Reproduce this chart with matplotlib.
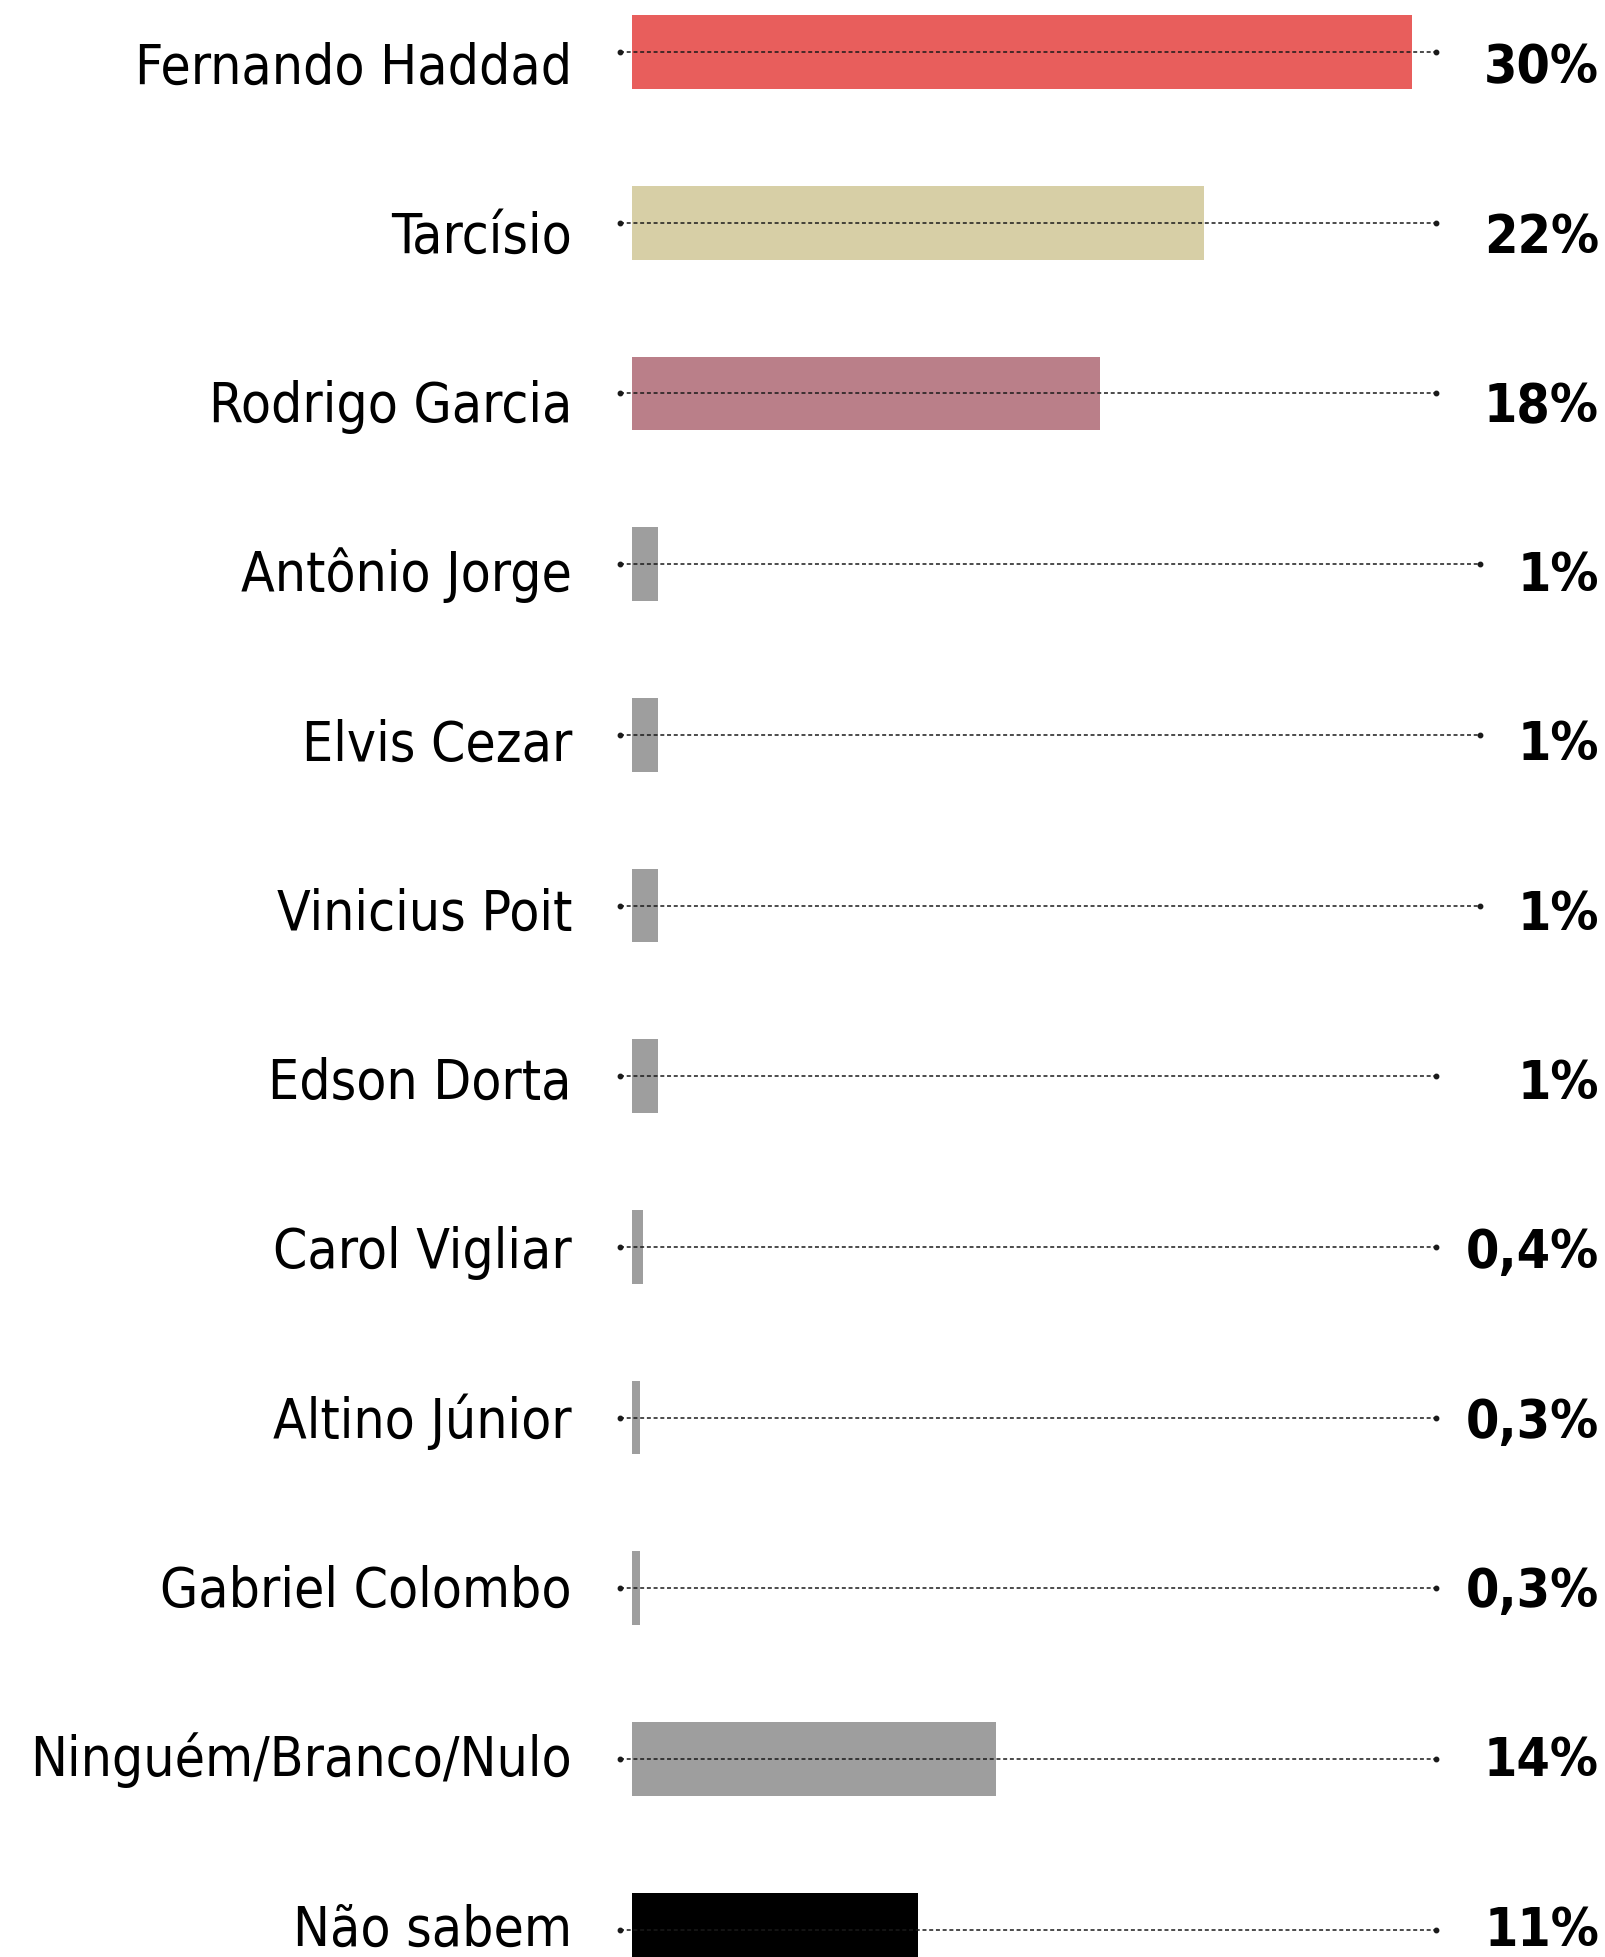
import matplotlib
matplotlib.use("Agg")
import matplotlib.pyplot as plt
from matplotlib import font_manager as fm

# ---- data ----
candidates = ["Fernando Haddad", "Tarcísio", "Rodrigo Garcia", "Antônio Jorge",
              "Elvis Cezar", "Vinicius Poit", "Edson Dorta", "Carol Vigliar",
              "Altino Júnior", "Gabriel Colombo", "Ninguém/Branco/Nulo", "Não sabem"]
values = [30, 22, 18, 1, 1, 1, 1, 0.4, 0.3, 0.3, 14, 11]
value_labels = ["30%", "22%", "18%", "1%", "1%", "1%", "1%", "0,4%", "0,3%",
                "0,3%", "14%", "11%"]
colors = ["#E85E5C", "#D7CFA6", "#BA7F89", "#9E9E9E", "#9E9E9E", "#9E9E9E",
          "#9E9E9E", "#9E9E9E", "#9E9E9E", "#9E9E9E", "#9E9E9E", "#000000"]

# ---- layout (pixels of the 1606x1957 canvas) ----
W, H = 1606, 1957
BAR_LEFT = 632.3
PX_PER_PCT = 26.0
ROW0, ROW_STEP = 52.0, 170.7          # bar / guide centres
TXT0, TXT_STEP = 83.3, 169.3          # text baselines
BAR_H = 73.7
LABEL_RIGHT = 572
GUIDE_START = 620.3
GUIDE_END = [1436, 1436, 1436, 1480, 1480, 1480, 1436, 1436, 1436, 1436, 1436, 1436]
VALUE_RIGHT = 1599

names = {f.name for f in fm.fontManager.ttflist}
if "Liberation Sans Narrow" in names:
    fam, lab_size, val_size, stretch = "Liberation Sans Narrow", 44, 41, "normal"
else:
    fam, lab_size, val_size, stretch = "DejaVu Sans", 39.5, 38.5, "condensed"

fig = plt.figure(figsize=(W / 100, H / 100), dpi=100)
ax = fig.add_axes([BAR_LEFT / W, 0, 1 - BAR_LEFT / W, 1])
ax.set_xlim(0, (W - BAR_LEFT) / PX_PER_PCT)
ax.set_ylim((H - ROW0) / ROW_STEP, -ROW0 / ROW_STEP)
ax.axis("off")

def px_to_x(px):
    return (px - BAR_LEFT) / PX_PER_PCT

def px_to_y(py):
    return (py - ROW0) / ROW_STEP

ys = list(range(len(candidates)))
ax.barh(ys, values, height=BAR_H / ROW_STEP, color=colors, zorder=1)

for i, (name, lab) in enumerate(zip(candidates, value_labels)):
    y = ys[i]
    xs = [px_to_x(GUIDE_START), px_to_x(GUIDE_END[i])]
    ax.plot(xs, [y, y], color="#1a1a1a", lw=1.1,
            linestyle=(0, (2.6, 1.8)), zorder=3, clip_on=False)
    ax.plot(xs, [y, y], linestyle="none", marker="o", ms=3.2,
            color="#1a1a1a", zorder=3, clip_on=False)
    ty = px_to_y(TXT0 + TXT_STEP * i)
    ax.text(px_to_x(LABEL_RIGHT), ty, name, ha="right", va="baseline",
            fontsize=lab_size, family=fam, fontstretch=stretch,
            color="black", clip_on=False)
    ax.text(px_to_x(VALUE_RIGHT), ty, lab, ha="right", va="baseline",
            fontsize=val_size, family=fam, fontstretch=stretch,
            fontweight="bold", color="black", clip_on=False)

fig.savefig("out.png", dpi=100, facecolor="white")
